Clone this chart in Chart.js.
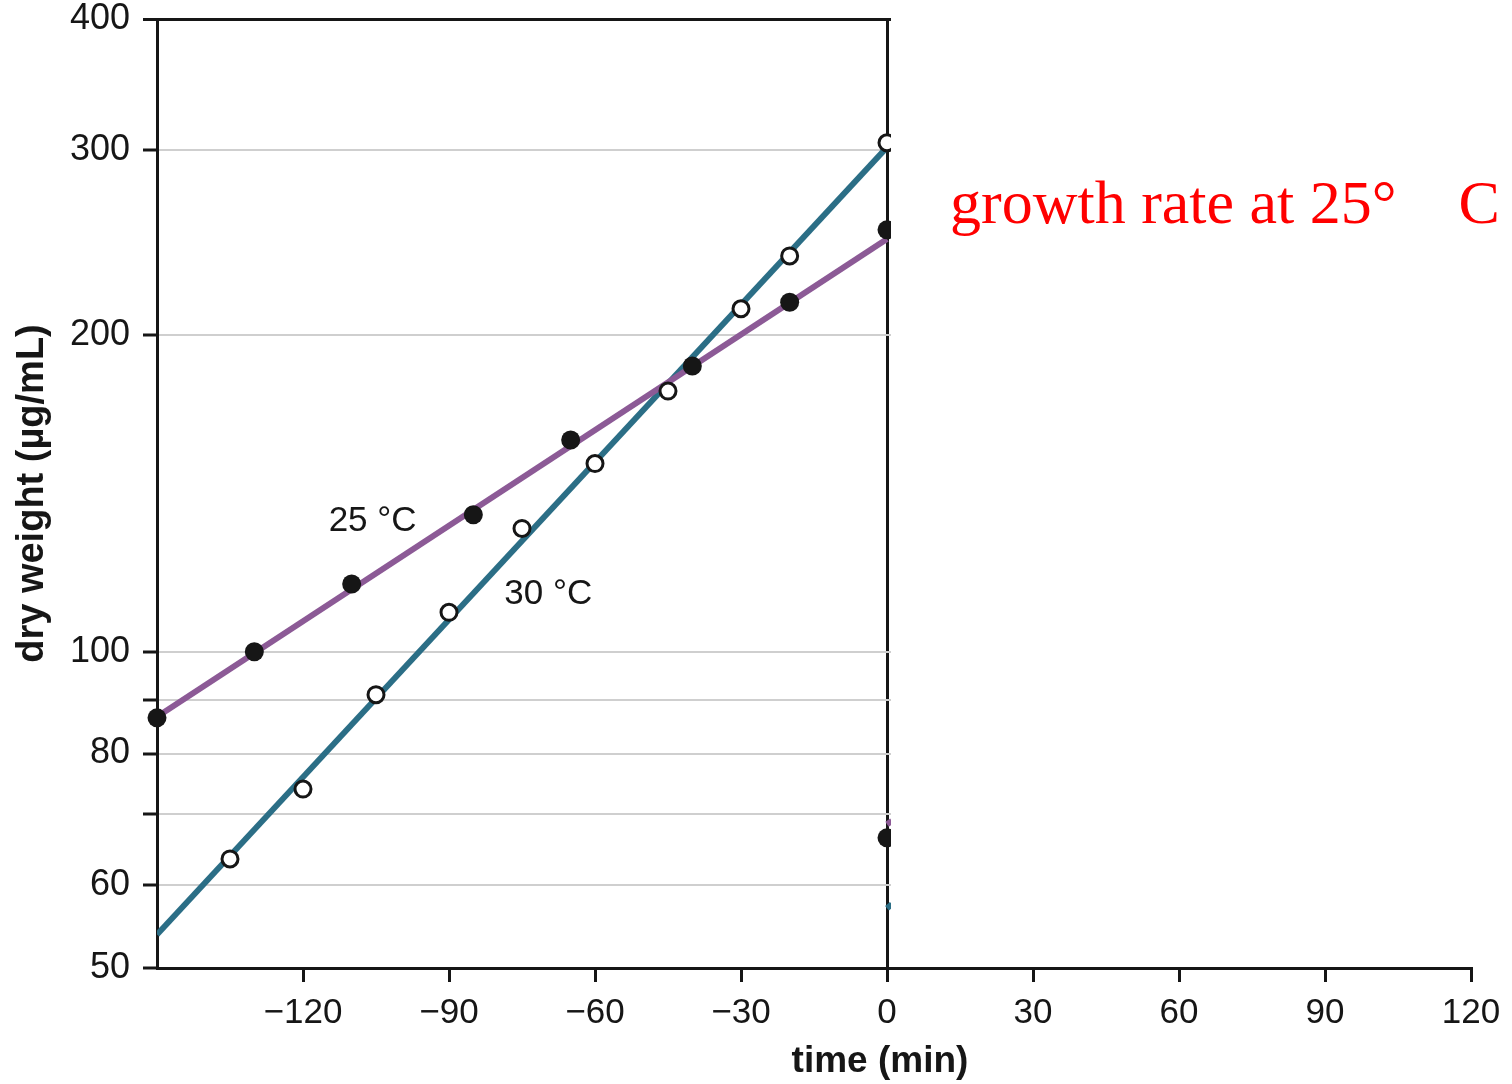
<!DOCTYPE html>
<html>
<head>
<meta charset="utf-8">
<script src="https://cdn.jsdelivr.net/npm/chart.js@4"></script>
<style>
  html, body { margin: 0; padding: 0; background: #fff; }
  #wrap { width: 1512px; height: 1084px; position: relative; }
</style>
</head>
<body>
<div id="wrap"><canvas id="myChart"></canvas></div>
<script>
// measured points, dry weight in ug/mL against time in minutes
const time25 = [-150, -130, -110, -85, -65, -40, -20, 0]
const dry25 = [86.5, 100, 116, 135, 159, 187, 215, 252]
const time30 = [-135, -120, -105, -90, -75, -60, -45, -30, -20, 0]
const dry30 = [63.5, 74, 91, 109, 131, 151, 177, 212, 238, 305]

// first sample after dilution at t = 0
const timeDiluted = [0]
const dryDiluted = [66.5]

// straight fits on the log axis
const fitTime = [-150, 0]
const fit25 = [86.7, 247]
const fit30 = [53.8, 302]

// start of the fits after dilution
const afterTime = [0, 1]
const after25 = [68.5, 69]
const after30 = [57, 57.5]

const xTicks = [-120, -90, -60, -30, 0, 30, 60, 90, 120]
const yTicks = [50, 60, 70, 80, 90, 100, 200, 300, 400]
const yLabels = [50, 60, 80, 100, 200, 300, 400]

const purple = '#8c5a96'
const teal = '#2b6e86'
const ink = '#161616'

const pts = (xs, ys) => xs.map((x, i) => ({ x: x, y: ys[i] }))

// white panel over the right half, then the text on top
const overlay = {
    id: 'overlay',
    afterDatasetsDraw(chart) {
        const { ctx, chartArea, scales } = chart
        const x = scales.x, y = scales.y
        ctx.save()
        ctx.fillStyle = ink
        ctx.font = '35px "Liberation Sans", Arial, sans-serif'
        ctx.textAlign = 'center'
        ctx.textBaseline = 'middle'
        ctx.fillText('25 °C', x.getPixelForValue(-105.7), y.getPixelForValue(133))
        ctx.fillText('30 °C', x.getPixelForValue(-69.6), y.getPixelForValue(113.5))
        const x0 = x.getPixelForValue(0) + 4
        ctx.fillStyle = '#fff'
        ctx.fillRect(x0, 0, chart.width - x0, chartArea.bottom - 2)
        ctx.restore()
    },
    afterDraw(chart) {
        const { ctx, scales } = chart
        ctx.save()
        ctx.fillStyle = ink
        ctx.font = 'bold 37px "Liberation Sans", Arial, sans-serif'
        ctx.textAlign = 'center'
        ctx.textBaseline = 'middle'
        ctx.fillText('time (min)', scales.x.getPixelForValue(0) - 7, 1062)
        ctx.fillStyle = '#ff0000'
        ctx.font = '62px "Liberation Serif", "Times New Roman", serif'
        ctx.textAlign = 'left'
        ctx.textBaseline = 'alphabetic'
        ctx.fillText('growth rate at 25°    C', 950, 223)
        ctx.restore()
    },
}

const ctx = document.getElementById('myChart').getContext('2d')
new Chart(ctx, {
    type: 'scatter',
    data: {
        datasets: [
            {
                label: '25 °C',
                data: pts(time25, dry25),
                pointRadius: 9.5,
                pointBackgroundColor: ink,
                pointBorderWidth: 0,
                clip: false,
            },
            {
                label: '25 °C diluted',
                data: pts(timeDiluted, dryDiluted),
                pointRadius: 9.5,
                pointBackgroundColor: ink,
                pointBorderWidth: 0,
            },
            {
                label: '30 °C',
                data: pts(time30, dry30),
                pointRadius: 8,
                pointBackgroundColor: '#fff',
                pointBorderColor: ink,
                pointBorderWidth: 3,
            },
            {
                label: 'fit 25',
                data: pts(fitTime, fit25),
                showLine: true,
                borderColor: purple,
                borderWidth: 6,
                pointRadius: 0,
            },
            {
                label: 'fit 30',
                data: pts(fitTime, fit30),
                showLine: true,
                borderColor: teal,
                borderWidth: 6,
                pointRadius: 0,
            },
            {
                label: 'after 25',
                data: pts(afterTime, after25),
                showLine: true,
                borderColor: purple,
                borderWidth: 6,
                pointRadius: 0,
            },
            {
                label: 'after 30',
                data: pts(afterTime, after30),
                showLine: true,
                borderColor: teal,
                borderWidth: 6,
                pointRadius: 0,
            },
        ],
    },
    options: {
        responsive: true,
        maintainAspectRatio: false,
        animation: false,
        layout: { padding: { top: 19, right: 41, left: 0, bottom: 0 } },
        plugins: {
            legend: { display: false },
            tooltip: { enabled: false },
        },
        scales: {
            x: {
                type: 'linear',
                min: -150,
                max: 120,
                z: 1,
                afterBuildTicks: (s) => { s.ticks = xTicks.map((v) => ({ value: v })) },
                afterFit: (s) => { s.height = 116 },
                ticks: {
                    autoSkip: false,
                    maxRotation: 0,
                    color: ink,
                    padding: 10,
                    font: { family: '"Liberation Sans Narrow", "Liberation Sans", Arial', size: 35 },
                    callback: (v) => (v < 0 ? '\u2212' + Math.abs(v) : String(v)),
                },
                grid: {
                    color: (c) => (c.tick && c.tick.value === 0 ? ink : 'rgba(0,0,0,0)'),
                    lineWidth: 3,
                    tickColor: ink,
                    tickWidth: 3,
                    tickLength: 14,
                },
                border: { color: ink, width: 3 },
            },
            y: {
                type: 'logarithmic',
                min: 50,
                max: 400,
                afterBuildTicks: (s) => { s.ticks = yTicks.map((v) => ({ value: v })) },
                afterFit: (s) => {
                    s.width = 157
                    s.paddingTop = 0
                    s.paddingBottom = 0
                },
                ticks: {
                    autoSkip: false,
                    color: ink,
                    padding: 13,
                    font: { family: '"Liberation Sans", Arial', size: 36 },
                    callback: (v) => (yLabels.includes(v) ? String(v) : ''),
                },
                grid: {
                    color: (c) => (c.tick && c.tick.value === 400 ? ink : '#cfcfcf'),
                    lineWidth: (c) => (c.tick && c.tick.value === 400 ? 3 : 2),
                    tickColor: ink,
                    tickWidth: 3,
                    tickLength: 14,
                },
                border: { color: ink, width: 3 },
                title: {
                    display: true,
                    text: 'dry weight (µg/mL)',
                    color: ink,
                    padding: { top: 10, bottom: 0 },
                    font: { family: '"Liberation Sans", Arial', size: 38, weight: 'bold' },
                },
            },
        },
    },
    plugins: [overlay],
})
</script>
</body>
</html>
